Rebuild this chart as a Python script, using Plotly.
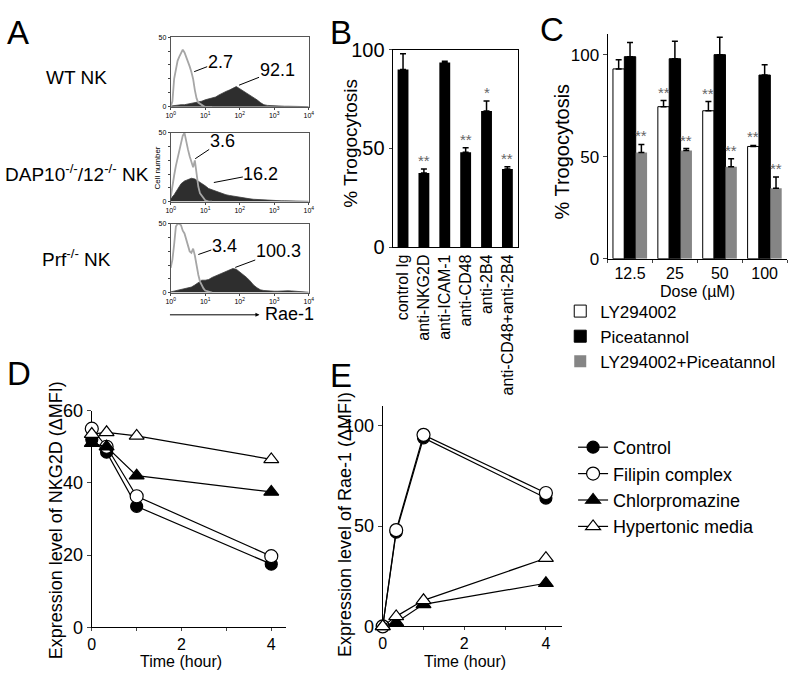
import plotly.graph_objects as go

W, H = 799, 679
FONT = "Liberation Sans, Arial, sans-serif"

# ---------------- Panel A: flow histograms (log10 intensity vs cell number)
iso_log = [0.00, 0.05, 0.10, 0.15, 0.20, 0.25, 0.30, 0.35, 0.40, 0.45, 0.50, 0.55,
           0.60, 0.65, 0.70, 0.75, 0.80, 0.85, 0.90, 0.95, 1.00, 1.10, 1.20]
iso_wt = [0, 4, 20, 28, 33, 36, 38, 41, 39, 36, 33, 29, 25, 20, 12, 6, 3, 2, 1, 0.5, 0, 0, 0]
iso_dap = [3, 12, 19, 26, 32, 38, 44, 48, 50, 43, 38, 33, 28, 25, 30, 18, 11, 6, 4, 2, 1, 0, 0]
iso_prf = [18, 24, 35, 48, 50, 50, 49, 45, 43, 39, 34, 30, 29, 32, 27, 19, 13, 8, 5, 3, 1.5, 0.5, 0]

rae_log = [0.0, 0.1, 0.2, 0.3, 0.4, 0.5, 0.6, 0.7, 0.8, 0.9,
           1.0, 1.1, 1.2, 1.3, 1.4, 1.5, 1.6, 1.7, 1.8, 1.9,
           2.0, 2.1, 2.2, 2.3, 2.4, 2.5, 2.6, 2.7, 2.8, 2.9,
           3.0, 3.1, 3.2, 3.3, 3.4, 3.5, 3.6, 3.7, 3.8, 3.9, 4.0]
rae_wt = [0.5, 1, 1.5, 1.5, 1.5, 2, 2, 2.5, 3, 4,
          5, 5.5, 6, 7, 8.5, 10, 11, 12, 13.5, 14.5,
          13, 11.5, 10, 8.5, 7, 5, 3, 1.5, 1, 0.8,
          0.6, 0.5, 0.5, 0.4, 0.4, 0.3, 0.3, 0.3, 0.2, 0.2, 0.1]
rae_dap = [2, 5, 9, 13, 15, 16, 17, 16.5, 15, 13,
           11.5, 9.5, 8.5, 7.5, 6.5, 5.5, 5, 4.5, 4, 3.5,
           3, 2.7, 2.3, 2, 1.7, 1.5, 1.3, 1.1, 1, 0.9,
           0.8, 0.7, 0.6, 0.6, 0.5, 0.5, 0.4, 0.4, 0.3, 0.3, 0.2]
rae_prf = [0.5, 1, 1.5, 2, 2.5, 3, 4, 5.5, 7, 9,
           9, 9.5, 11, 12, 13, 14, 15.5, 16.5, 17.5, 17,
           15, 13.5, 11, 8.5, 5.5, 3.5, 2, 1.5, 1.2, 1,
           1, 1, 1.2, 1.2, 1.3, 1.2, 1, 0.8, 0.5, 0.3, 0.2]

a_rows = ["WT NK", "DAP10<sup>-/-</sup>/12<sup>-/-</sup> NK", "Prf<sup>-/-</sup> NK"]
a_iso_mfi = ["2.7", "3.6", "3.4"]
a_rae_mfi = ["92.1", "16.2", "100.3"]
hist_tickvals = [0, 1, 2, 3, 4]
hist_ticktext = ["10<sup>0</sup>", "10<sup>1</sup>", "10<sup>2</sup>", "10<sup>3</sup>", "10<sup>4</sup>"]

# ---------------- Panel B
b_labels = ["control Ig", "anti-NKG2D", "anti-ICAM-1", "anti-CD48", "anti-2B4", "anti-CD48+anti-2B4"]
b_vals = [90, 37.5, 93.5, 48, 69, 39.5]
b_err = [8, 2, 0.6, 2.3, 5, 1.2]
b_sig = ["", "**", "", "**", "*", "**"]

# ---------------- Panel C
c_doses = ["12.5", "25", "50", "100"]
c_ly = [93, 74.5, 72.5, 55]
c_ly_err = [4.5, 3, 4.5, 0.5]
c_pic = [99, 98, 100, 90]
c_pic_err = [7, 8.5, 8.5, 5]
c_combo = [52, 53, 45, 34.5]
c_combo_err = [4, 1, 4, 5.5]
c_ly_sig = ["", "**", "**", "**"]
c_combo_sig = ["**", "**", "**", "**"]

# ---------------- Panels D / E
times = [0, 0.33, 1, 4]
series_names = ["Control", "Filipin complex", "Chlorpromazine", "Hypertonic media"]
d_control = [52, 48.5, 33.5, 17.5]
d_filipin = [55, 50, 36.3, 19.7]
d_chlor = [51, 50, 42, 37.5]
d_hyper = [53.5, 54, 53, 46.5]
e_control = [0, 47, 94, 64]
e_filipin = [0, 48, 95.5, 66.5]
e_chlor = [0, 2, 11, 21.5]
e_hyper = [0, 5, 13, 34]

# ====================================================================
def xd(a, b):
    return [a / W, b / W]


def yd(top, bottom):
    return [1 - bottom / H, 1 - top / H]


def note(text, x, y, size, angle=0, xanchor="center", yanchor="middle", color="black"):
    return dict(text=text, x=x / W, y=1 - y / H, xref="paper", yref="paper",
                showarrow=False, textangle=angle, xanchor=xanchor, yanchor=yanchor,
                font=dict(size=size, family=FONT, color=color))


fig = go.Figure()
annotations = []

# ---- Panel A traces
hist_sets = [(iso_wt, rae_wt), (iso_dap, rae_dap), (iso_prf, rae_prf)]
for i, (iso, rae) in enumerate(hist_sets):
    ax = "" if i == 0 else str(i + 1)
    fig.add_trace(go.Scatter(x=rae_log, y=rae, mode="lines", fill="tozeroy",
                             fillcolor="#2e2e2e", line=dict(color="#3c3c3c", width=0.8),
                             xaxis="x" + ax, yaxis="y" + ax, showlegend=False, hoverinfo="skip"))
    fig.add_trace(go.Scatter(x=iso_log, y=iso, mode="lines",
                             line=dict(color="#a6a6a6", width=1.8),
                             xaxis="x" + ax, yaxis="y" + ax, showlegend=False, hoverinfo="skip"))

# ---- Panel B
fig.add_trace(go.Bar(x=b_labels, y=b_vals, marker=dict(color="black", line=dict(color="black", width=0)),
                     error_y=dict(type="data", array=b_err, arrayminus=[0] * len(b_err), symmetric=False,
                                  color="black", thickness=1.5, width=3),
                     xaxis="x4", yaxis="y4", showlegend=False, width=0.52))

# ---- Panel C
c_bargap = 0.24
c_series = [
    ("LY294002", c_ly, c_ly_err, "white", 1),
    ("Piceatannol", c_pic, c_pic_err, "black", 1),
    ("LY294002+Piceatannol", c_combo, c_combo_err, "#858585", 0),
]
for name, vals, err, col, lw in c_series:
    fig.add_trace(go.Bar(name=name, x=c_doses, y=vals,
                         marker=dict(color=col, line=dict(color="black", width=lw)),
                         error_y=dict(type="data", array=err, arrayminus=[0] * len(err), symmetric=False,
                                      color="black", thickness=1.5, width=3),
                         xaxis="x5", yaxis="y5", legend="legend2", legendgroup=name))

# ---- Panels D & E
styles = [
    dict(symbol="circle", color="black", size=12),
    dict(symbol="circle", color="white", size=13),
    dict(symbol="triangle-up", color="black", size=13),
    dict(symbol="triangle-up", color="white", size=13),
]
d_data = [d_control, d_filipin, d_chlor, d_hyper]
e_data = [e_control, e_filipin, e_chlor, e_hyper]
for name, sty, dv, ev in zip(series_names, styles, d_data, e_data):
    mk = dict(symbol=sty["symbol"], color=sty["color"], size=sty["size"],
              line=dict(color="black", width=1.2))
    fig.add_trace(go.Scatter(name=name, x=times, y=dv, mode="lines+markers",
                             line=dict(color="black", width=1.2), marker=mk,
                             xaxis="x6", yaxis="y6", cliponaxis=False,
                             legend="legend", legendgroup=name))
    fig.add_trace(go.Scatter(name=name, x=times, y=ev, mode="lines+markers",
                             line=dict(color="black", width=1.2), marker=mk,
                             xaxis="x7", yaxis="y7", cliponaxis=False, showlegend=False))

# ---- Axes
tickfont = lambda s: dict(size=s, family=FONT, color="black")
layout_axes = {}
hist_boxes = [(27, 99), (126, 197), (220, 291)]
for i, (top, bot) in enumerate(hist_boxes):
    sfx = "" if i == 0 else str(i + 1)
    layout_axes["xaxis" + sfx] = dict(domain=xd(168, 308), range=[0, 4], anchor="y" + sfx,
                                      tickvals=hist_tickvals, ticktext=hist_ticktext,
                                      ticks="outside", ticklen=2, tickfont=tickfont(7),
                                      showline=True, mirror=True, linecolor="#555", linewidth=1,
                                      showgrid=False, zeroline=False)
    layout_axes["yaxis" + sfx] = dict(domain=yd(top, bot), range=[0, 50], anchor="x" + sfx,
                                      tickvals=[0, 50], ticks="outside", ticklen=2,
                                      minor=dict(ticks="outside", ticklen=2, dtick=10),
                                      tickfont=tickfont(7),
                                      showline=True, mirror=True, linecolor="#555", linewidth=1,
                                      showgrid=False, zeroline=False)

layout_axes["xaxis4"] = dict(domain=xd(393, 520), anchor="y4", type="category", tickangle=-90,
                             tickfont=tickfont(16), ticks="", showline=True, mirror=True,
                             linecolor="black", linewidth=1, showgrid=False)
layout_axes["yaxis4"] = dict(domain=yd(40, 244), anchor="x4", range=[0, 100], tickvals=[0, 50, 100],
                             ticks="outside", ticklen=3, tickfont=tickfont(20), showline=True,
                             mirror=True, linecolor="black", linewidth=1, showgrid=False, zeroline=False)

layout_axes["xaxis5"] = dict(domain=xd(611, 793), anchor="y5", type="category", tickson="boundaries",
                             ticks="outside", ticklen=3, tickfont=tickfont(16), showline=True,
                             linecolor="black", linewidth=1, showgrid=False)
layout_axes["yaxis5"] = dict(domain=yd(24, 256), anchor="x5", range=[0, 110], tickvals=[0, 50, 100],
                             ticks="outside", ticklen=4, tickfont=tickfont(17), showline=True,
                             linecolor="black", linewidth=1, showgrid=False, zeroline=False)

for ax_id, xdom, ydom, xr, yr, yt in [
    ("6", xd(88, 285), yd(413, 637), [0, 4.33], [0, 60], [0, 20, 40, 60]),
    ("7", xd(383, 565), yd(408, 636), [0, 4.4], [0, 110], [0, 50, 100]),
]:
    layout_axes["xaxis" + ax_id] = dict(domain=xdom, anchor="y" + ax_id, range=xr,
                                        tickvals=[0, 2, 4], ticks="outside", ticklen=2,
                                        minor=dict(ticks="outside", ticklen=3, dtick=1),
                                        tickfont=tickfont(16),
                                        showline=True, linecolor="black", linewidth=1.2,
                                        showgrid=False, zeroline=False, layer="below traces")
    layout_axes["yaxis" + ax_id] = dict(domain=ydom, anchor="x" + ax_id, range=yr, tickvals=yt,
                                        ticks="outside", ticklen=4, tickfont=tickfont(18),
                                        showline=True, linecolor="black", linewidth=1.2,
                                        showgrid=False, zeroline=False, layer="below traces")

# ---- Annotations: panel letters
for letter, x, y in [("A", 13, 22), ("B", 341, 22), ("C", 555, 19), ("D", 14, 375), ("E", 341, 377)]:
    annotations.append(note(letter, x, y, 33))

# Panel A row labels
for text, y in zip(a_rows, [69, 167, 255]):
    annotations.append(note(text, 73, y, 19))

# Histogram MFI labels with leader lines
iso_tips = [(0.68, 25.2, 26, -10), (0.71, 31.2, 27, -18), (0.80, 27.7, 26, -9)]
rae_tips = [(1.98, 15.5, 38, -15), (1.25, 13.9, 47, -9), (1.87, 18.3, 43, -16)]
for i in range(3):
    sfx = "" if i == 0 else str(i + 1)
    for lab, (tx, ty, axp, ayp) in [(a_iso_mfi[i], iso_tips[i]), (a_rae_mfi[i], rae_tips[i])]:
        annotations.append(dict(text=lab, x=tx, y=ty, xref="x" + sfx, yref="y" + sfx,
                                ax=axp, ay=ayp, showarrow=True, arrowhead=0, arrowwidth=1,
                                arrowcolor="black", standoff=0, borderpad=0,
                                font=dict(size=18, family=FONT, color="black")))

annotations.append(note("Cell number", 155, 162, 8, angle=-90))
annotations.append(note("Rae-1", 262, 313, 18, xanchor="left"))
annotations.append(dict(text="", x=258 / W, y=1 - 314 / H, xref="paper", yref="paper",
                        ax=-91, ay=0, showarrow=True, arrowhead=2, arrowsize=0.8,
                        arrowwidth=1, arrowcolor="black"))

# Panel B
annotations.append(note("% Trogocytosis", 350, 137, 19, angle=-90))
for i, s in enumerate(b_sig):
    if s:
        annotations.append(dict(text=s, x=i, y=b_vals[i] + b_err[i], xref="x4", yref="y4",
                                showarrow=False, yanchor="bottom", yshift=-2,
                                font=dict(size=15, family=FONT, color="#666")))

# Panel C
annotations.append(note("% Trogocytosis", 565, 145, 20, angle=-90))
annotations.append(note("Dose (µM)", 702, 290, 16))
off = (1 - c_bargap) / 3
for i in range(len(c_doses)):
    for sig, vals, err, dx in [(c_ly_sig, c_ly, c_ly_err, -off), (c_combo_sig, c_combo, c_combo_err, off)]:
        if sig[i]:
            annotations.append(dict(text=sig[i], x=i + dx, y=vals[i] + err[i], xref="x5", yref="y5",
                                    showarrow=False, yanchor="bottom", yshift=-2,
                                    font=dict(size=15, family=FONT, color="#666")))

# Panels D / E titles
annotations.append(note("Expression level of NKG2D (ΔMFI)", 52, 526, 18, angle=-90))
annotations.append(note("Time (hour)", 178, 672, 16))
annotations.append(note("Expression level of Rae-1 (ΔMFI)", 345, 531, 18, angle=-90))
annotations.append(note("Time (hour)", 466, 672, 16))

fig.update_layout(
    width=W, height=H, margin=dict(l=0, r=0, t=0, b=0),
    paper_bgcolor="white", plot_bgcolor="white",
    font=dict(family=FONT, color="black"),
    barmode="group", bargap=c_bargap, bargroupgap=0,
    annotations=annotations,
    legend=dict(x=576 / W, y=1 - 432 / H, xanchor="left", yanchor="top",
                font=dict(size=18, family=FONT), bgcolor="rgba(0,0,0,0)",
                tracegroupgap=3, itemwidth=30, traceorder="normal"),
    legend2=dict(x=563 / W, y=1 - 292 / H, xanchor="left", yanchor="top",
                 font=dict(size=17, family=FONT), bgcolor="rgba(0,0,0,0)",
                 tracegroupgap=3, itemwidth=30, traceorder="normal"),
    **layout_axes,
)

fig.write_html("out.html", config={"displayModeBar": False},
               post_script="document.body.style.margin='0';document.body.style.overflow='hidden';")
